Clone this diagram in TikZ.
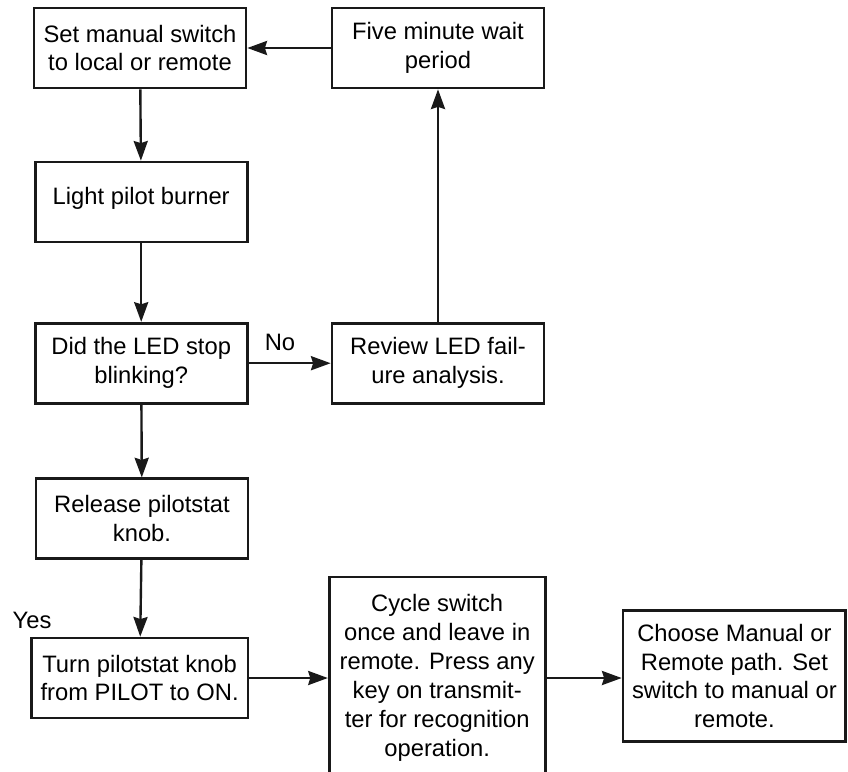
\documentclass[tikz,border=0pt]{standalone}
\usepackage{fontspec}
\setmainfont{Liberation Sans}
\usetikzlibrary{arrows.meta,positioning}

\begin{document}
\begin{tikzpicture}[
    stepbox/.style={rectangle, draw=black!90, line width=1.9pt, minimum width=5.3cm, minimum height=2cm, align=center, font=\fontsize{16.9}{20.6}\selectfont, inner sep=2pt},
    lbl/.style={font=\fontsize{16.9}{20.6}\selectfont, inner sep=0pt},
    arrow/.style={-{Stealth[length=14pt,width=10pt,inset=1.5pt]}, line width=1.7pt, draw=black!90}
]
\useasboundingbox (0,0) rectangle (21.2,-19.275);

\node[stepbox] (setsw) at (3.5,-1.2) {Set manual switch\\to local or remote};
\node[stepbox] (fivemin) at (10.95,-1.2) {Five minute wait\\period};
\node[stepbox, text depth=8.7pt] (light) at (3.53,-5.05) {Light pilot burner};
\node[stepbox] (ledstop) at (3.53,-9.08) {Did the LED stop\\blinking?};
\node[stepbox] (review) at (10.95,-9.08) {Review LED fail-\\ure analysis.};
\node[stepbox] (release) at (3.55,-12.97) {Release pilotstat\\knob.};
\node[stepbox, minimum width=5.42cm] (turn) at (3.49,-16.95) {Turn pilotstat knob\\from PILOT to ON.};
\node[stepbox, minimum width=5.4cm, minimum height=5.05cm] (cycle) at (10.93,-16.95) {Cycle switch\\once and leave in\\remote. Press any\\key on transmit-\\ter for recognition\\operation.};
\node[stepbox, minimum width=5.57cm, minimum height=3.28cm] (choose) at (18.36,-16.9) {Choose Manual or\\Remote path. Set\\switch to manual or\\remote.};

\node[lbl] (no) at (7.0,-8.55) {No};
\node[lbl] (yes) at (0.8,-15.5) {Yes};

\draw[arrow] (fivemin) -- (setsw);
\draw[arrow] (setsw) -- (light);
\draw[arrow] (light) -- (ledstop);
\draw[arrow] (ledstop) -- (review);
\draw[arrow] (review) -- (fivemin);
\draw[arrow] (ledstop) -- (release);
\draw[arrow] (release) -- (turn);
\draw[arrow] (turn) -- (cycle);
\draw[arrow] (cycle.east |- turn.east) -- (choose.west |- turn.east);

\end{tikzpicture}
\end{document}
